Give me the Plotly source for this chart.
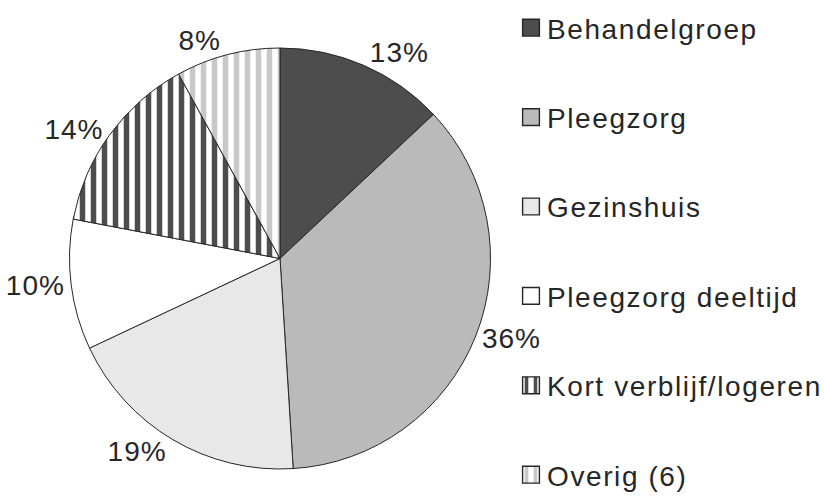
import plotly.graph_objects as go

categories = ["Behandelgroep", "Pleegzorg", "Gezinshuis", "Pleegzorg deeltijd",
              "Kort verblijf/logeren", "Overig (6)"]
values = [13, 36, 19, 10, 14, 8]
fill_colors = ["#4d4d4d", "#bababa", "#e8e8e8", "#ffffff", "#ffffff", "#ffffff"]
pattern_shapes = ["", "", "", "", "|", "|"]
pattern_fg = ["#4d4d4d", "#bababa", "#e8e8e8", "#ffffff", "#4d4d4d", "#c8c8c8"]

TEXT = "#262626"
FONT = "Liberation Sans, Arial, sans-serif"

fig = go.Figure()

fig.add_trace(go.Pie(
    labels=categories,
    values=values,
    sort=False,
    direction="clockwise",
    rotation=0,
    texttemplate="%{percent:.0%}",
    textposition="outside",
    textfont=dict(size=28, color=TEXT, family=FONT),
    marker=dict(
        colors=fill_colors,
        line=dict(color=TEXT, width=1),
        pattern=dict(shape=pattern_shapes, fgcolor=pattern_fg, bgcolor="#ffffff",
                     fgopacity=1, size=11, solidity=0.5, fillmode="replace"),
    ),
    domain=dict(x=[69 / 824, 491 / 824], y=[1 - 469 / 503, 1 - 48 / 503]),
    showlegend=False,
    hoverinfo="label+percent",
))

# legend entries (one per category) so they can be spaced like the original
for cat, col, shp, fg in zip(categories, fill_colors, pattern_shapes, pattern_fg):
    fig.add_trace(go.Bar(
        x=[None], y=[None], name=cat, legendgroup=cat,
        marker=dict(color=col, line=dict(color=TEXT, width=1),
                    pattern=dict(shape=shp, fgcolor=fg, bgcolor="#ffffff",
                                 fgopacity=1, size=8, solidity=0.4, fillmode="replace")),
        showlegend=True, hoverinfo="skip",
    ))

fig.update_layout(
    width=824, height=503,
    margin=dict(l=0, r=0, t=0, b=0),
    paper_bgcolor="white", plot_bgcolor="white",
    font=dict(family=FONT, color=TEXT, size=28),
    xaxis=dict(visible=False), yaxis=dict(visible=False),
    legend=dict(
        x=507 / 824, xanchor="left", y=1 - 3 / 503, yanchor="top",
        font=dict(size=28, color=TEXT, family=FONT),
        traceorder="grouped", tracegroupgap=50,
        bgcolor="rgba(0,0,0,0)",
    ),
)

post = """
document.body.style.margin = '0';
var st = document.createElement('style');
st.textContent = '.legendtext{letter-spacing:1.6px;} .slicetext{letter-spacing:1px;} ' +
                 '.legend .scrollbox{clip-path:none !important;} ' +
                 '.legend .legendpoints path{transform-box:fill-box;transform-origin:center;' +
                 'transform:translate(24px,0) scale(1.4);}';
document.head.appendChild(st);
"""

fig.write_html("out.html", post_script=post, config={"displayModeBar": False})
